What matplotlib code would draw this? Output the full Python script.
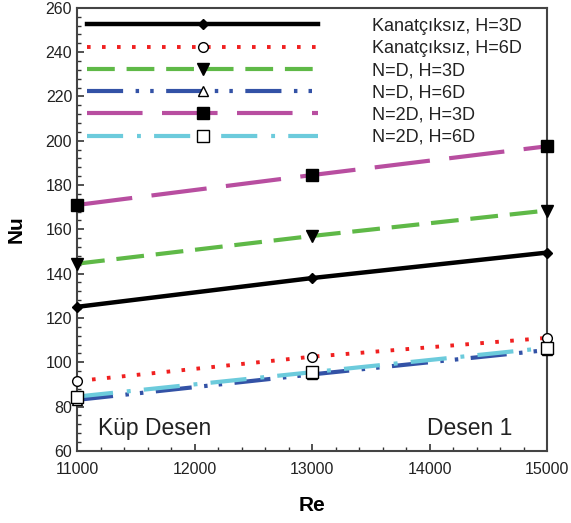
import matplotlib.pyplot as plt
from matplotlib.ticker import MultipleLocator

plt.rcParams['font.family'] = ['Liberation Sans', 'DejaVu Sans']
plt.rcParams['lines.scale_dashes'] = False

# Data
re_vals = [11000, 13000, 15000]
nu_kanatciksiz_3d = [125, 138, 149.5]
nu_kanatciksiz_6d = [91.5, 102.5, 111]
nu_nd_3d = [144.5, 157, 168.5]
nu_nd_6d = [83, 94.5, 105.5]
nu_n2d_3d = [171, 184.5, 197.5]
nu_n2d_6d = [84.5, 95.5, 106.5]

labels = ['Kanatçıksız, H=3D', 'Kanatçıksız, H=6D', 'N=D, H=3D',
          'N=D, H=6D', 'N=2D, H=3D', 'N=2D, H=6D']

fig = plt.figure(figsize=(5.71, 5.23), dpi=100)
ax = fig.add_axes([0.135, 0.138, 0.823, 0.847])

lines = []
l, = ax.plot(re_vals, nu_kanatciksiz_3d, color='black', lw=3.2, ls='-',
             marker='D', ms=5, mfc='black', mec='black')
lines.append(l)
l, = ax.plot(re_vals, nu_kanatciksiz_6d, color='#f02020', lw=2.8,
             ls=(0, (2.6, 8.2)), marker='o', ms=7, mfc='white', mec='black', mew=1)
lines.append(l)
l, = ax.plot(re_vals, nu_nd_3d, color='#5fb947', lw=3,
             ls=(0, (20, 8.5)), marker='v', ms=8, mfc='black', mec='black')
lines.append(l)
l, = ax.plot(re_vals, nu_nd_6d, color='#3352a6', lw=3,
             ls=(0, (26, 9, 2.5, 8, 2.5, 9)), marker='^', ms=7, mfc='white', mec='black', mew=1)
lines.append(l)
l, = ax.plot(re_vals, nu_n2d_3d, color='#b84ea0', lw=3,
             ls=(0, (40, 14)), marker='s', ms=8, mfc='black', mec='black')
lines.append(l)
l, = ax.plot(re_vals, nu_n2d_6d, color='#6ccbdc', lw=3,
             ls=(0, (26, 10, 2.8, 9.5)), marker='s', ms=8, mfc='white', mec='black', mew=1)
lines.append(l)

for ln in lines:
    ln.set_clip_on(False)
    ln.set_zorder(3)

ax.set_xlim(11000, 15000)
ax.set_ylim(60, 260)
ax.xaxis.set_major_locator(MultipleLocator(1000))
ax.xaxis.set_minor_locator(MultipleLocator(200))
ax.yaxis.set_major_locator(MultipleLocator(20))
ax.yaxis.set_minor_locator(MultipleLocator(4))
ax.tick_params(which='both', direction='in', top=False, right=False,
               labelsize=11.5, colors='#333333', labelcolor='#222222')
ax.tick_params(which='major', length=5, width=1.2)
ax.tick_params(which='minor', length=3, width=1)
ax.tick_params(axis='x', pad=8)
for s in ax.spines.values():
    s.set_color('#444444')
    s.set_linewidth(1.5)

ax.set_xlabel('Re', fontsize=15, fontweight='bold', labelpad=14)
ax.set_ylabel('Nu', fontsize=15, fontweight='bold', labelpad=14)

ax.text(0.045, 0.035, 'Küp Desen', transform=ax.transAxes, fontsize=16.5, color='#222222')
ax.text(0.745, 0.035, 'Desen 1', transform=ax.transAxes, fontsize=16.5, color='#222222')

leg = ax.legend(lines, labels, loc='upper left', bbox_to_anchor=(0.0, 1.0),
                frameon=False, fontsize=13, numpoints=1, handlelength=12.8,
                handletextpad=3.0, labelspacing=0.29, borderaxespad=0.2,
                borderpad=0.35)
for t in leg.get_texts():
    t.set_color('#222222')

fig.savefig('out.png', dpi=100)
